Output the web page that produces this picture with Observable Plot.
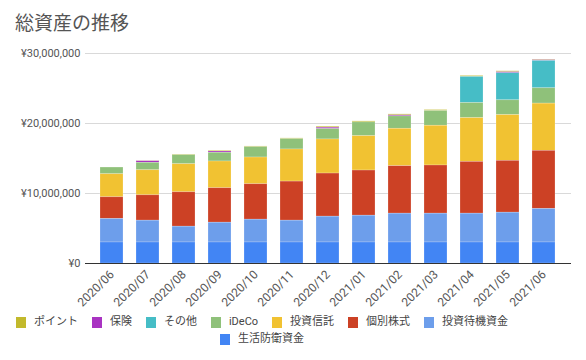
<!DOCTYPE html>
<html><head><meta charset="utf-8">
<script src="https://cdn.jsdelivr.net/npm/d3@7"></script>
<script src="https://cdn.jsdelivr.net/npm/@observablehq/plot@0.6"></script>
<style>
body{margin:0;background:#fff;font-family:Roboto,"Noto Sans CJK JP",sans-serif;}
#wrap{position:relative;width:586px;height:360px;overflow:hidden;}
#title{position:absolute;left:15px;top:8px;font-size:19px;color:#555;}
#chart{position:absolute;left:0;top:40px;}
#legend{position:absolute;left:-18px;top:315px;width:560px;display:flex;flex-wrap:wrap;justify-content:center;row-gap:3px;font-size:11px;line-height:14px;color:#444;}
.item{display:flex;align-items:center;margin:0 7px;}
.sw{width:10px;height:11px;margin-right:8px;}
</style></head>
<body><div id="wrap"><div id="title">総資産の推移</div><div id="chart"></div><div id="legend"></div></div>
<script>
const months = ["2020/06","2020/07","2020/08","2020/09","2020/10","2020/11","2020/12","2021/01","2021/02","2021/03","2021/04","2021/05","2021/06"];
// values in millions of yen
const seikatsu = [3.0,3.0,3.0,3.0,3.0,3.0,3.0,3.0,3.0,3.0,3.0,3.0,3.0];
const taiki    = [3.36,3.12,2.26,2.83,3.26,3.12,3.69,3.83,4.12,4.12,4.12,4.26,4.79];
const kobetsu  = [3.10,3.62,4.91,4.92,5.06,5.58,6.16,6.45,6.78,6.88,7.40,7.41,8.31];
const shintaku = [3.29,3.58,4.01,3.82,3.82,4.59,4.87,4.91,5.35,5.68,6.25,6.53,6.74];
const ideco    = [0.96,1.06,1.29,1.25,1.48,1.48,1.48,1.97,1.77,2.10,2.15,2.11,2.19];
const sonota   = [0,0,0,0,0,0,0,0,0,0,3.73,3.87,3.91];
const hoken    = [0,0.23,0,0.18,0,0,0.2,0,0.14,0,0,0.14,0.1];
const point    = [0,0.05,0.1,0.1,0.1,0.1,0.14,0.14,0.14,0.14,0.14,0.14,0.1];
const yTicks = [0,10000000,20000000,30000000];

const seriesNames = ["ポイント","保険","その他","iDeCo","投資信託","個別株式","投資待機資金","生活防衛資金"];
const seriesVals  = [point,hoken,sonota,ideco,shintaku,kobetsu,taiki,seikatsu];
const colors = ["#c2b92c","#a933c2","#46bdc6","#8fc17a","#f1c232","#cc4125","#6d9eeb","#4285f4"];
const stackOrder = seriesNames.slice().reverse();

const data = [];
seriesNames.forEach((s,i)=>months.forEach((m,j)=>data.push({month:m, series:s, value:seriesVals[i][j]*1e6})));

const fmt = d => "¥" + d3.format(",")(d);

const chart = Plot.plot({
  width:586, height:275,
  marginLeft:85, marginRight:15, marginTop:13, marginBottom:52,
  style:{fontFamily:'Roboto,"Noto Sans CJK JP",sans-serif', fontSize:"11px", color:"#555", background:"#fff"},
  x:{type:"band", domain:months, padding:0.36, label:null},
  y:{domain:[0,30000000], label:null},
  color:{domain:seriesNames, range:colors},
  marks:[
    Plot.ruleY(yTicks.slice(1), {stroke:"#d9d9d9", strokeWidth:1}),
    Plot.barY(data, {x:"month", y:"value", fill:"series", order:stackOrder, stroke:"#fff", strokeOpacity:0.35, strokeWidth:0.6}),
    Plot.ruleY([0], {stroke:"#333", strokeWidth:1}),
    Plot.axisY({ticks:yTicks, tickFormat:fmt, tickSize:0, tickPadding:5, fontSize:11, fill:"#555"}),
    Plot.axisX({tickRotate:-45, tickSize:0, tickPadding:9, fontSize:12, fill:"#555"})
  ]
});
document.getElementById("chart").appendChild(chart);

const leg = document.getElementById("legend");
seriesNames.forEach((s,i)=>{
  const it=document.createElement("div"); it.className="item";
  const sw=document.createElement("div"); sw.className="sw"; sw.style.background=colors[i];
  const t=document.createElement("span"); t.textContent=s;
  it.appendChild(sw); it.appendChild(t); leg.appendChild(it);
});
</script></body></html>
